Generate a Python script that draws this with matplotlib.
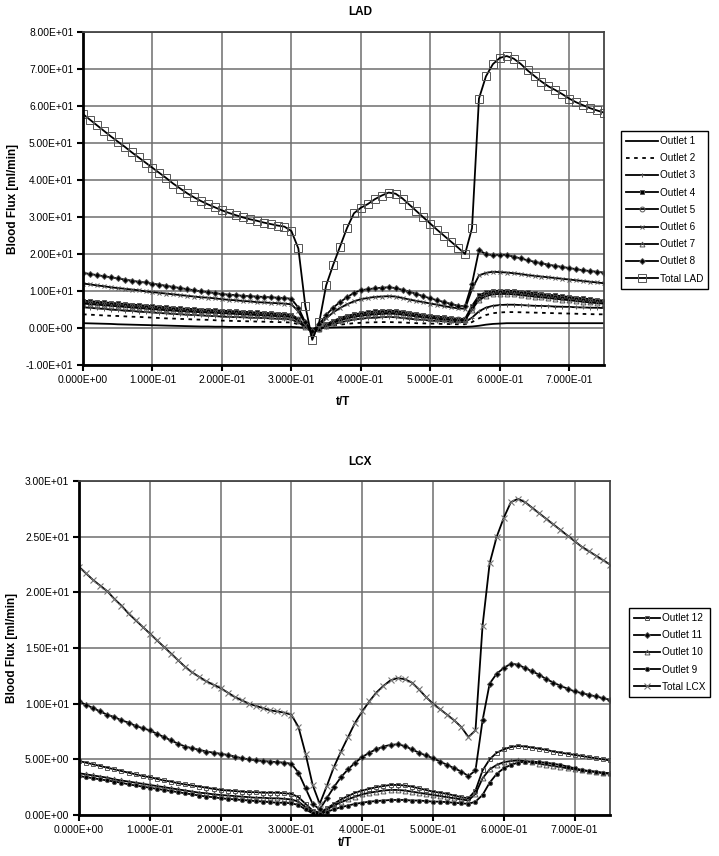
import numpy as np
import matplotlib
matplotlib.use("Agg")
import matplotlib.pyplot as plt
from matplotlib.ticker import FormatStrFormatter, MultipleLocator

plt.rcParams['font.family'] = ['Liberation Sans', 'DejaVu Sans']

# sample times t/T (0.00 .. 0.75, step 0.01)
t = np.linspace(0.0, 0.75, 76)

# ---- LAD (ml/min), one row = 0.1 of t/T ----
outlet1 = [1.3, 1.25, 1.2, 1.15, 1.1, 1.0, 0.95, 0.9, 0.85, 0.8,
           0.75, 0.7, 0.65, 0.6, 0.55, 0.5, 0.45, 0.4, 0.4, 0.35,
           0.35, 0.3, 0.3, 0.3, 0.3, 0.3, 0.3, 0.3, 0.3, 0.3,
           0.3, 0.2, 0.0, -0.2, 0.0, 0.1, 0.15, 0.2, 0.2, 0.25,
           0.3, 0.3, 0.3, 0.3, 0.3, 0.3, 0.3, 0.3, 0.3, 0.3,
           0.3, 0.3, 0.3, 0.3, 0.3, 0.3, 0.4, 0.6, 0.9, 1.1,
           1.2, 1.3, 1.3, 1.3, 1.3, 1.3, 1.3, 1.3, 1.3, 1.3,
           1.3, 1.3, 1.3, 1.3, 1.3, 1.3]
outlet2 = [3.7, 3.6, 3.5, 3.4, 3.3, 3.25, 3.15, 3.05, 3.0, 2.9,
           2.8, 2.7, 2.6, 2.55, 2.45, 2.4, 2.3, 2.25, 2.2, 2.1,
           2.0, 1.95, 1.9, 1.85, 1.8, 1.75, 1.7, 1.65, 1.6, 1.55,
           1.5, 1.0, 0.3, -0.3, 0.0, 0.4, 0.7, 0.9, 1.1, 1.3,
           1.4, 1.5, 1.55, 1.6, 1.6, 1.55, 1.5, 1.4, 1.3, 1.25,
           1.2, 1.15, 1.1, 1.05, 1.0, 1.0, 1.6, 2.6, 3.5, 4.0,
           4.2, 4.3, 4.3, 4.25, 4.2, 4.15, 4.1, 4.05, 4.0, 3.95,
           3.9, 3.85, 3.8, 3.75, 3.7, 3.7]
outlet3 = [5.6, 5.45, 5.3, 5.15, 5.0, 4.85, 4.7, 4.6, 4.45, 4.3,
           4.2, 4.05, 3.95, 3.8, 3.7, 3.6, 3.5, 3.4, 3.3, 3.2,
           3.1, 3.0, 2.95, 2.9, 2.8, 2.75, 2.7, 2.6, 2.5, 2.45,
           2.3, 1.5, 0.3, -0.8, -0.3, 0.4, 1.0, 1.5, 1.9, 2.3,
           2.5, 2.7, 2.8, 2.9, 3.0, 2.9, 2.7, 2.5, 2.3, 2.2,
           2.0, 1.9, 1.8, 1.7, 1.6, 1.6, 2.8, 4.5, 5.5, 6.0,
           6.2, 6.3, 6.3, 6.2, 6.1, 6.0, 5.95, 5.9, 5.8, 5.75,
           5.7, 5.6, 5.55, 5.5, 5.45, 5.4]
outlet4 = [7.4, 7.25, 7.1, 6.95, 6.8, 6.65, 6.5, 6.35, 6.2, 6.05,
           5.9, 5.75, 5.6, 5.45, 5.3, 5.2, 5.1, 5.0, 4.9, 4.8,
           4.7, 4.6, 4.5, 4.4, 4.3, 4.2, 4.1, 4.0, 3.9, 3.8,
           3.6, 2.5, 0.6, -1.4, -0.2, 1.0, 1.9, 2.7, 3.3, 3.7,
           4.0, 4.3, 4.5, 4.6, 4.7, 4.6, 4.4, 4.1, 3.8, 3.5,
           3.3, 3.1, 2.9, 2.7, 2.5, 2.5, 6.0, 8.8, 9.7, 10.0,
           10.1, 10.1, 10.0, 9.8, 9.6, 9.4, 9.2, 9.0, 8.8, 8.6,
           8.4, 8.2, 8.0, 7.8, 7.6, 7.4]
outlet5 = [7.0, 6.85, 6.7, 6.55, 6.4, 6.25, 6.1, 5.95, 5.8, 5.65,
           5.5, 5.35, 5.2, 5.05, 4.9, 4.8, 4.7, 4.6, 4.5, 4.45,
           4.4, 4.3, 4.2, 4.1, 4.0, 3.9, 3.8, 3.7, 3.6, 3.5,
           3.3, 2.3, 0.5, -1.2, -0.3, 0.8, 1.7, 2.4, 3.0, 3.4,
           3.7, 3.9, 4.1, 4.2, 4.3, 4.2, 4.0, 3.7, 3.4, 3.2,
           3.0, 2.8, 2.6, 2.4, 2.3, 2.3, 5.5, 8.2, 9.2, 9.6,
           9.7, 9.7, 9.6, 9.4, 9.2, 9.0, 8.8, 8.6, 8.4, 8.2,
           8.0, 7.8, 7.6, 7.4, 7.2, 7.0]
outlet6 = [12.0, 11.8, 11.5, 11.3, 11.0, 10.8, 10.6, 10.4, 10.2, 9.9,
           9.7, 9.5, 9.3, 9.1, 8.9, 8.7, 8.5, 8.3, 8.2, 8.0,
           7.8, 7.6, 7.5, 7.3, 7.2, 7.0, 6.9, 6.8, 6.7, 6.6,
           6.4, 4.5, 1.2, -0.8, 0.6, 2.6, 4.2, 5.4, 6.4, 7.2,
           7.8, 8.1, 8.4, 8.5, 8.6, 8.5, 8.1, 7.7, 7.3, 7.0,
           6.6, 6.3, 5.9, 5.6, 5.3, 5.2, 10.5, 14.2, 14.9, 15.2,
           15.1, 15.0, 14.8, 14.6, 14.3, 14.1, 13.9, 13.7, 13.5, 13.3,
           13.1, 12.9, 12.7, 12.5, 12.3, 12.1]
outlet7 = [6.6, 6.45, 6.3, 6.15, 6.0, 5.85, 5.7, 5.55, 5.4, 5.25,
           5.1, 4.95, 4.8, 4.7, 4.55, 4.45, 4.35, 4.25, 4.15, 4.1,
           4.0, 3.9, 3.8, 3.7, 3.6, 3.5, 3.4, 3.3, 3.2, 3.1,
           3.0, 2.1, 0.4, -1.0, -0.4, 0.6, 1.4, 2.1, 2.6, 3.0,
           3.3, 3.5, 3.7, 3.8, 3.9, 3.8, 3.6, 3.4, 3.1, 2.9,
           2.7, 2.5, 2.3, 2.2, 2.1, 2.1, 5.0, 7.6, 8.6, 9.1,
           9.2, 9.2, 9.1, 8.9, 8.7, 8.5, 8.3, 8.1, 7.9, 7.7,
           7.5, 7.3, 7.1, 6.9, 6.7, 6.6]
outlet8 = [14.9, 14.6, 14.3, 14.0, 13.7, 13.4, 13.1, 12.8, 12.5, 12.3,
           12.0, 11.7, 11.4, 11.1, 10.8, 10.5, 10.2, 9.9, 9.7, 9.4,
           9.2, 9.0, 8.9, 8.7, 8.6, 8.5, 8.4, 8.3, 8.2, 8.1,
           7.9, 5.5, 1.5, -0.8, 1.0, 3.5, 5.5, 7.0, 8.3, 9.5,
           10.2, 10.5, 10.7, 10.9, 11.0, 10.8, 10.3, 9.8, 9.2, 8.6,
           8.0, 7.5, 7.0, 6.5, 6.0, 5.9, 12.0, 21.0, 20.0, 19.6,
           19.8, 19.7, 19.3, 18.8, 18.3, 17.9, 17.5, 17.1, 16.8, 16.5,
           16.2, 15.9, 15.6, 15.4, 15.2, 15.0]
total_lad = [57.8, 56.3, 54.8, 53.3, 51.8, 50.4, 49.0, 47.5, 46.1, 44.7,
             43.3, 41.9, 40.5, 39.0, 37.7, 36.4, 35.3, 34.3, 33.4, 32.6,
             31.8, 31.1, 30.5, 29.9, 29.4, 29.0, 28.5, 28.1, 27.7, 27.4,
             26.2, 21.5, 6.0, -3.2, 1.5, 11.5, 17.0, 22.0, 27.0, 31.0,
             32.5, 33.5, 34.8, 35.8, 36.6, 36.3, 35.0, 33.3, 31.6, 29.9,
             28.2, 26.5, 24.9, 23.3, 21.7, 20.0, 27.0, 62.0, 68.0, 71.3,
             73.0, 73.5, 72.8, 71.4, 69.6, 68.1, 66.6, 65.3, 64.3, 63.2,
             62.0, 61.0, 60.2, 59.4, 58.8, 58.2]

# ---- LCX (ml/min) ----
outlet12 = [4.85, 4.7, 4.55, 4.4, 4.25, 4.1, 3.95, 3.8, 3.65, 3.5,
            3.4, 3.25, 3.1, 3.0, 2.85, 2.75, 2.65, 2.55, 2.45, 2.35,
            2.25, 2.2, 2.15, 2.1, 2.05, 2.05, 2.0, 2.0, 2.0, 1.95,
            1.9, 1.6, 1.0, 0.4, 0.2, 0.6, 1.0, 1.4, 1.7, 2.0,
            2.2, 2.35, 2.5, 2.6, 2.7, 2.7, 2.65, 2.55, 2.4, 2.25,
            2.1, 2.0, 1.9, 1.75, 1.6, 1.5, 2.2, 4.0, 5.0, 5.6,
            5.9, 6.1, 6.2, 6.15, 6.05, 5.95, 5.85, 5.7, 5.6, 5.5,
            5.4, 5.3, 5.2, 5.1, 5.0, 4.9]
outlet11 = [10.2, 9.9, 9.6, 9.3, 9.0, 8.8, 8.5, 8.3, 8.0, 7.8,
            7.6, 7.3, 7.0, 6.7, 6.4, 6.15, 6.0, 5.85, 5.7, 5.6,
            5.5, 5.4, 5.25, 5.1, 5.0, 4.9, 4.85, 4.8, 4.75, 4.7,
            4.6, 3.8, 2.4, 1.0, 0.5, 1.5, 2.5, 3.4, 4.1, 4.7,
            5.2, 5.6, 5.9, 6.15, 6.3, 6.35, 6.2, 5.9, 5.6, 5.35,
            5.1, 4.8, 4.5, 4.2, 3.9, 3.5, 4.0, 8.5, 11.8, 12.7,
            13.2, 13.6, 13.5, 13.2, 12.9, 12.6, 12.2, 11.9, 11.6, 11.35,
            11.1, 10.95, 10.8, 10.65, 10.5, 10.35]
outlet10 = [3.75, 3.65, 3.55, 3.45, 3.35, 3.2, 3.1, 3.0, 2.9, 2.8,
            2.7, 2.6, 2.5, 2.4, 2.3, 2.2, 2.1, 2.0, 1.95, 1.85,
            1.8, 1.75, 1.7, 1.65, 1.6, 1.55, 1.55, 1.5, 1.5, 1.45,
            1.4, 1.2, 0.7, 0.25, 0.1, 0.5, 0.85, 1.15, 1.4, 1.65,
            1.85, 2.0, 2.1, 2.2, 2.25, 2.25, 2.2, 2.1, 2.0, 1.9,
            1.8, 1.7, 1.6, 1.5, 1.4, 1.3, 1.9, 3.3, 4.1, 4.5,
            4.75, 4.85, 4.9, 4.85, 4.75, 4.6, 4.5, 4.4, 4.3, 4.2,
            4.1, 4.0, 3.95, 3.9, 3.8, 3.75]
outlet9 = [3.5, 3.4, 3.3, 3.2, 3.1, 3.0, 2.9, 2.75, 2.65, 2.55,
           2.45, 2.35, 2.25, 2.15, 2.05, 1.95, 1.85, 1.75, 1.65, 1.6,
           1.5, 1.45, 1.4, 1.35, 1.3, 1.25, 1.2, 1.15, 1.1, 1.1,
           1.05, 0.9, 0.5, 0.15, 0.05, 0.3, 0.5, 0.7, 0.85, 1.0,
           1.1, 1.2, 1.25, 1.3, 1.35, 1.35, 1.35, 1.3, 1.3, 1.25,
           1.2, 1.2, 1.15, 1.1, 1.05, 1.0, 1.2, 1.8, 2.9, 3.7,
           4.2, 4.5, 4.7, 4.8, 4.8, 4.75, 4.7, 4.6, 4.5, 4.35,
           4.2, 4.05, 3.95, 3.85, 3.75, 3.7]
total_lcx = [22.3, 21.7, 21.1, 20.6, 20.1, 19.4, 18.8, 18.1, 17.5, 16.9,
             16.3, 15.7, 15.1, 14.5, 13.9, 13.3, 12.8, 12.4, 12.0, 11.7,
             11.4, 11.0, 10.6, 10.3, 10.0, 9.8, 9.6, 9.4, 9.3, 9.2,
             9.0, 7.9, 5.5, 2.7, 1.0, 2.6, 4.3, 5.7, 7.0, 8.3,
             9.3, 10.2, 11.0, 11.6, 12.1, 12.3, 12.2, 11.9, 11.3, 10.6,
             10.0, 9.5, 9.0, 8.5, 7.9, 7.0, 7.6, 17.0, 22.6, 25.0,
             26.7, 28.1, 28.4, 28.1, 27.6, 27.1, 26.6, 26.1, 25.6, 25.1,
             24.6, 24.1, 23.7, 23.3, 22.9, 22.5]

W, H = 719, 856


def style_axes(ax, ymin, ymax, ystep, xpad):
    ax.set_xlim(0, 0.75)
    ax.set_ylim(ymin, ymax)
    ax.xaxis.set_major_locator(MultipleLocator(0.1))
    ax.yaxis.set_major_locator(MultipleLocator(ystep))
    ax.xaxis.set_major_formatter(FormatStrFormatter('%.3E'))
    ax.yaxis.set_major_formatter(FormatStrFormatter('%.2E'))
    ax.grid(True, color='#6e6e6e', linewidth=1.1)
    ax.set_axisbelow(True)
    ax.tick_params(labelsize=7.4, length=4, width=1.5, color='black', pad=3)
    for side in ('left', 'bottom'):
        ax.spines[side].set_linewidth(2.0)
        ax.spines[side].set_color('black')
    for side in ('top', 'right'):
        ax.spines[side].set_linewidth(1.3)
        ax.spines[side].set_color('#444444')
    ax.set_ylabel('Blood Flux [ml/min]', fontsize=8.5, fontweight='bold', labelpad=5)
    ax.set_xlabel('t/T', fontsize=8.5, fontweight='bold', labelpad=xpad)


fig = plt.figure(figsize=(W / 100, H / 100), dpi=100)

mk = dict(color='black', lw=1.3, mec='#555555', mew=0.7)

# ---- top: LAD ----
ax1 = fig.add_axes([83 / W, 1 - 365 / H, 521 / W, 333 / H])
ax1.plot(t, outlet1, label='Outlet 1', **mk)
ax1.plot(t, outlet2, ls=(0, (2, 2.5)), label='Outlet 2', **mk)
ax1.plot(t, outlet3, marker='+', ms=3.5, label='Outlet 3', **mk)
ax1.plot(t, outlet4, marker='s', ms=3, mfc='black', label='Outlet 4', **mk)
ax1.plot(t, outlet5, marker='o', ms=3.5, mfc='none', label='Outlet 5', **mk)
ax1.plot(t, outlet6, marker='x', ms=3.5, label='Outlet 6', **mk)
ax1.plot(t, outlet7, marker='^', ms=3.5, mfc='none', label='Outlet 7', **mk)
ax1.plot(t, outlet8, marker='D', ms=3, mfc='black', label='Outlet 8', **mk)
ax1.plot(t, total_lad, marker='s', ms=5.5, mfc='none', label='Total LAD', **mk)
style_axes(ax1, -10, 80, 10, 8)
fig.text(360 / W, 1 - 12 / H, 'LAD', ha='center', va='center',
         fontsize=8.5, fontweight='bold')
fig.legend(*ax1.get_legend_handles_labels(), loc='upper left',
           bbox_to_anchor=(621 / W, 1 - 131 / H), fontsize=7.2,
           frameon=True, fancybox=False, edgecolor='black', framealpha=1,
           handlelength=3.2, handletextpad=0.2, labelspacing=0.72,
           borderpad=0.5, borderaxespad=0)

# ---- bottom: LCX ----
ax2 = fig.add_axes([79 / W, 1 - 815 / H, 531 / W, 334 / H])
ax2.plot(t, outlet12, marker='s', ms=3.5, mfc='none', label='Outlet 12', **mk)
ax2.plot(t, outlet11, marker='D', ms=3, mfc='black', label='Outlet 11', **mk)
ax2.plot(t, outlet10, marker='^', ms=3.5, mfc='none', label='Outlet 10', **mk)
ax2.plot(t, outlet9, marker='o', ms=3, mfc='black', label='Outlet 9', **mk)
ax2.plot(t, total_lcx, marker='x', ms=4, label='Total LCX',
         color='black', lw=1.3, mec='#777777', mew=0.8)
style_axes(ax2, 0, 30, 5, 2)
fig.text(360 / W, 1 - 462 / H, 'LCX', ha='center', va='center',
         fontsize=8.5, fontweight='bold')
fig.legend(*ax2.get_legend_handles_labels(), loc='upper left',
           bbox_to_anchor=(629 / W, 1 - 608 / H), fontsize=7.2,
           frameon=True, fancybox=False, edgecolor='black', framealpha=1,
           handlelength=2.6, handletextpad=0.2, labelspacing=0.72,
           borderpad=0.5, borderaxespad=0)

fig.savefig('out.png', dpi=100)
